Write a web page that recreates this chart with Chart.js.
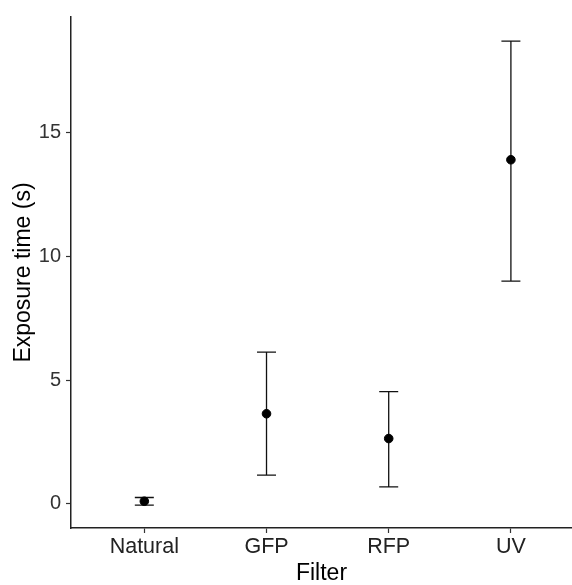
<!DOCTYPE html>
<html>
<head>
<meta charset="utf-8">
<script src="https://cdn.jsdelivr.net/npm/chart.js@4.4.0/dist/chart.umd.min.js"></script>
<style>
    html, body { margin: 0; padding: 0; background: #fff; }
    #wrap { width: 572px; height: 585px; }
</style>
</head>
<body>
<div id="wrap"><canvas id="expChart" width="572" height="585"></canvas></div>
<script>
// values
const filters = ["Natural", "GFP", "RFP", "UV"];
const meanTime = [0.11, 3.64, 2.64, 13.89];
const lowerTime = [-0.05, 1.16, 0.69, 8.99];
const upperTime = [0.26, 6.13, 4.53, 18.68];
const yTicks = [0, 5, 10, 15];

const FONT = "'Liberation Sans', Arial, sans-serif";

// whiskers drawn under the points, through the chart's own scales
const errorBars = {
    id: "errorBars",
    beforeDatasetsDraw(chart) {
        const { ctx, scales: { x, y } } = chart;
        const half = 9.5;
        ctx.save();
        ctx.strokeStyle = "#111";
        ctx.lineWidth = 1.3;
        filters.forEach((f, i) => {
            const px = x.getPixelForValue(i + 1);
            const top = y.getPixelForValue(upperTime[i]);
            const bot = y.getPixelForValue(lowerTime[i]);
            ctx.beginPath();
            ctx.moveTo(px, top);
            ctx.lineTo(px, bot);
            ctx.moveTo(px - half, top);
            ctx.lineTo(px + half, top);
            ctx.moveTo(px - half, bot);
            ctx.lineTo(px + half, bot);
            ctx.stroke();
        });
        ctx.restore();
    }
};

new Chart(document.getElementById("expChart"), {
    type: "scatter",
    data: {
        datasets: [{
            label: "Exposure time",
            data: meanTime.map((v, i) => ({ x: i + 1, y: v })),
            backgroundColor: "#000",
            borderColor: "#000",
            pointRadius: 4.3,
            pointHoverRadius: 4.3,
            clip: false
        }]
    },
    options: {
        responsive: false,
        animation: false,
        // no extra room for point radius, the panel runs to the right edge
        layout: { autoPadding: false, padding: { top: 13, right: 0, bottom: 0, left: 0 } },
        plugins: {
            legend: { display: false },
            tooltip: { enabled: false }
        },
        scales: {
            x: {
                type: "linear",
                min: 0.4,
                max: 4.5,
                afterBuildTicks: (scale) => {
                    scale.ticks = filters.map((f, i) => ({ value: i + 1 }));
                },
                afterFit: (scale) => {
                    scale.height = 57;
                    scale.paddingLeft = 0;
                    scale.paddingRight = 0;
                },
                ticks: {
                    callback: (v) => filters[v - 1],
                    color: "#222",
                    font: { family: FONT, size: 21.5 },
                    padding: 1,
                    maxRotation: 0,
                    autoSkip: false
                },
                grid: {
                    drawOnChartArea: false,
                    tickLength: 5,
                    tickColor: "#333",
                    tickWidth: 1.2
                },
                border: { color: "#222", width: 1.5 },
                title: {
                    display: true,
                    text: "Filter",
                    color: "#000",
                    font: { family: FONT, size: 23, lineHeight: 1.0 },
                    padding: { top: 0, bottom: 0 }
                }
            },
            y: {
                min: -0.97,
                max: 19.65,
                afterBuildTicks: (scale) => {
                    scale.ticks = yTicks.map(v => ({ value: v }));
                },
                afterFit: (scale) => { scale.width = 71; },
                ticks: {
                    color: "#333",
                    font: { family: FONT, size: 20 },
                    padding: 5
                },
                grid: {
                    drawOnChartArea: false,
                    tickLength: 5,
                    tickColor: "#333",
                    tickWidth: 1.2
                },
                border: { color: "#222", width: 1.5 },
                title: {
                    display: true,
                    text: "Exposure time (s)",
                    color: "#000",
                    font: { family: FONT, size: 23 },
                    padding: { top: 10, bottom: 0 }
                }
            }
        }
    },
    plugins: [errorBars]
});
</script>
</body>
</html>
